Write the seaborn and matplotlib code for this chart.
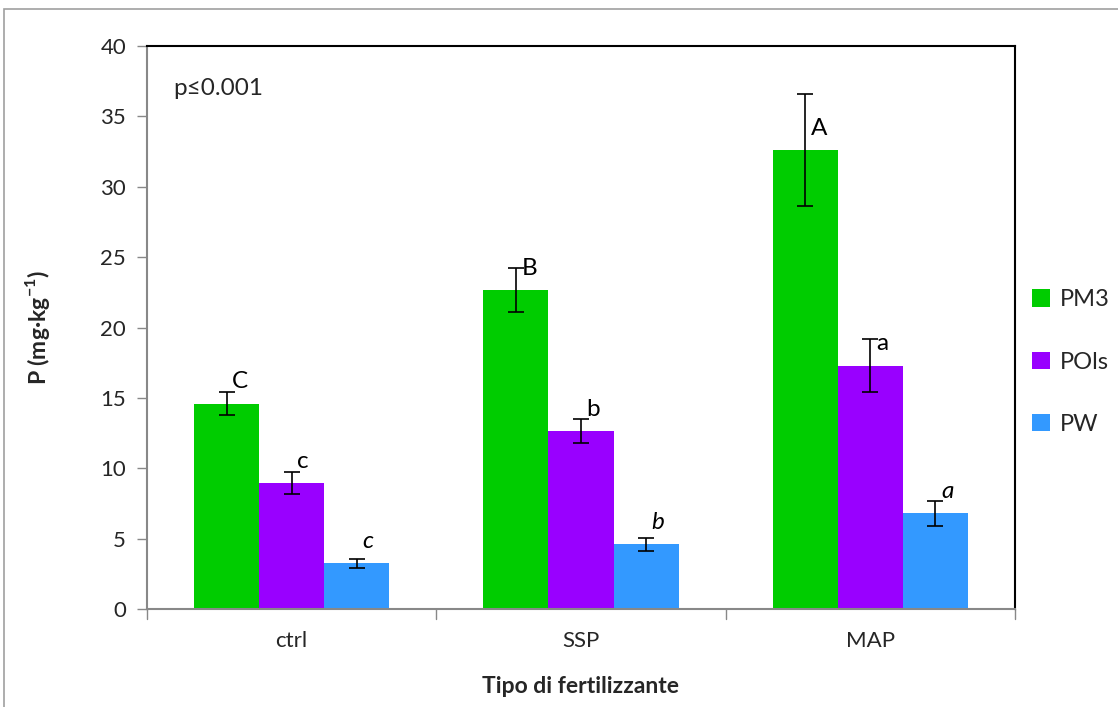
import matplotlib
matplotlib.use("Agg")
import matplotlib.pyplot as plt
import matplotlib.patches as mpatches
import seaborn as sns
import pandas as pd
import numpy as np

# ---- data ----
categories = ["ctrl", "SSP", "MAP"]
series = ["PM3", "POls", "PW"]
pm3 = [14.6, 22.65, 32.6]
pols = [8.95, 12.65, 17.3]
pw = [3.25, 4.6, 6.8]
pm3_err = [0.8, 1.55, 4.0]
pols_err = [0.78, 0.85, 1.9]
pw_err = [0.33, 0.47, 0.9]
pm3_letters = ["C", "B", "A"]
pols_letters = ["c", "b", "a"]
pw_letters = ["c", "b", "a"]
colors = ["#00CC00", "#9900FF", "#3399FF"]
yticks = [0, 5, 10, 15, 20, 25, 30, 35, 40]

sns.set_style("white")
plt.rcParams["font.family"] = ["Lato", "DejaVu Sans"]
plt.rcParams["mathtext.fontset"] = "custom"
plt.rcParams["mathtext.rm"] = "Lato"
plt.rcParams["mathtext.bf"] = "Lato:bold"

values = [pm3, pols, pw]
errs = [pm3_err, pols_err, pw_err]
letters = [pm3_letters, pols_letters, pw_letters]
df = pd.DataFrame({
    "cat": np.repeat([categories], 3, axis=0).ravel(),
    "series": np.repeat(series, len(categories)),
    "val": np.concatenate(values),
})

W, H = 1118, 707
fig = plt.figure(figsize=(W / 100, H / 100), dpi=100)
ax = fig.add_axes([147 / W, 1 - 609 / H, (1015 - 147) / W, (609 - 46) / H])

sns.barplot(data=df, x="cat", y="val", hue="series", order=categories,
            hue_order=series, palette=colors, ax=ax, width=0.675,
            saturation=1, errorbar=None, legend=False, edgecolor="none")

bar_containers = list(ax.containers)
for i, cont in enumerate(bar_containers):
    xs = [p.get_x() + p.get_width() / 2 for p in cont.patches]
    ax.errorbar(xs, values[i], yerr=errs[i], fmt="none", ecolor="black",
                elinewidth=1.2, capsize=6, capthick=1.2, zorder=5)
    for j, x in enumerate(xs):
        ax.annotate(letters[i][j], (x, values[i][j]), xytext=(4, 8),
                    textcoords="offset points", ha="left", va="bottom",
                    fontsize=17.5, style="italic" if i == 2 else "normal",
                    color="black")

ax.set_ylim(0, 40)
ax.set_xlim(-0.5, 2.5)
ax.set_yticks(yticks)
ax.set_yticklabels([str(t) for t in yticks])
ax.tick_params(axis="y", which="both", left=True, length=7, width=1,
               color="#888888", labelsize=16, pad=8)
ax.set_xticks([0, 1, 2])
ax.set_xticklabels(categories)
ax.tick_params(axis="x", bottom=False, labelsize=16, pad=12)
for b in [-0.5, 0.5, 1.5, 2.5]:
    ax.plot([b, b], [0, -0.018], transform=ax.get_xaxis_transform(),
            color="#888888", lw=1, clip_on=False)

for side in ["left", "bottom"]:
    ax.spines[side].set_color("#888888")
    ax.spines[side].set_linewidth(1.5)
for side in ["top", "right"]:
    ax.spines[side].set_color("black")
    ax.spines[side].set_linewidth(1.5)

ax.set_xlabel("Tipo di fertilizzante", fontsize=16.5, fontweight="bold", labelpad=18)
ax.set_ylabel(r"P (mg·kg$^{\mathbf{-1}}$)", fontsize=16.5, fontweight="bold")
ax.yaxis.set_label_coords(-0.11, 0.5)

ax.text(0.03, 0.925, "p≤0.001", transform=ax.transAxes, fontsize=17.5,
        ha="left", va="center")

handles = [mpatches.Patch(facecolor=c, edgecolor="none") for c in colors]
fig.legend(handles, series, loc="center left", bbox_to_anchor=(1011 / W, 1 - 362 / H),
           frameon=False, fontsize=17, handlelength=0.75, handleheight=0.75,
           handletextpad=0.4, labelspacing=1.75)

border = mpatches.Rectangle((4 / W, -0.1), 1.2, 1 - 9 / H + 0.1, transform=fig.transFigure,
                            fill=False, edgecolor="#A0A0A0", lw=1.2)
fig.add_artist(border)

fig.savefig("out.png", dpi=100)
